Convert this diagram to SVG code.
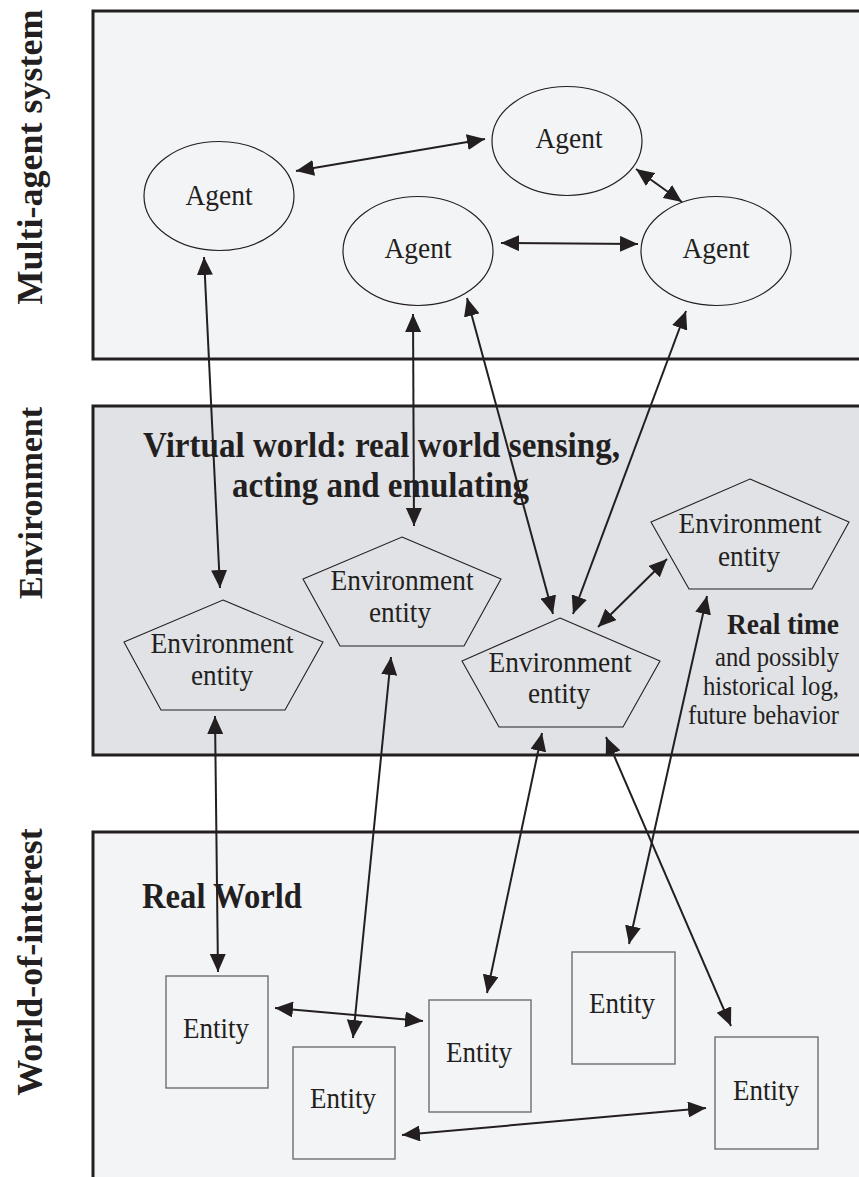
<svg xmlns="http://www.w3.org/2000/svg" width="859" height="1177" viewBox="0 0 859 1177">
  <style>
    .panel { stroke: #231f20; stroke-width: 3; }
    .light { fill: #f3f4f6; }
    .dark { fill: #e1e2e6; }
    .agent { fill: none; stroke: #231f20; stroke-width: 1.2; }
    .env { fill: none; stroke: #231f20; stroke-width: 1.1; }
    .ent { fill: none; stroke: #6d6e71; stroke-width: 1.4; }
    .lbl { font-family: "Liberation Serif", "Times New Roman", serif; fill: #231f20; }
    .node { font-size: 29px; text-anchor: middle; }
    .side { font-size: 36px; font-weight: bold; text-anchor: middle; }
    .head { font-size: 35px; font-weight: bold; }
    .note { font-size: 27px; text-anchor: end; }
    .link { fill: none; stroke: #231f20; stroke-width: 2; marker-start: url(#tip); marker-end: url(#tip); }
  </style>
  <defs>
    <marker id="tip" markerUnits="userSpaceOnUse" markerWidth="19" markerHeight="16" refX="18" refY="8" orient="auto-start-reverse" viewBox="0 0 19 16">
      <path d="M0,0 L18,8 L0,16 z" fill="#231f20"/>
    </marker>
  </defs>

  <rect width="859" height="1177" fill="#ffffff"/>

  <!-- layer panels -->
  <g id="panel-mas">
    <rect class="panel light" x="93" y="11" width="780" height="348"/>
    <text class="lbl side" transform="translate(42,157) rotate(-90)">Multi-agent system</text>
  </g>
  <g id="panel-env">
    <rect class="panel dark" x="93" y="406" width="780" height="349"/>
    <text class="lbl side" style="font-size:34px" transform="translate(42,503) rotate(-90)">Environment</text>
    <text class="lbl head" x="143" y="457" textLength="477" lengthAdjust="spacingAndGlyphs">Virtual world: real world sensing,</text>
    <text class="lbl head" x="232" y="497" textLength="297" lengthAdjust="spacingAndGlyphs">acting and emulating</text>
    <text class="lbl note" x="839" y="634" style="font-size:30px;font-weight:bold" textLength="112" lengthAdjust="spacingAndGlyphs">Real time</text>
    <text class="lbl note" x="839" y="666" textLength="124" lengthAdjust="spacingAndGlyphs">and possibly</text>
    <text class="lbl note" x="839" y="695" textLength="136" lengthAdjust="spacingAndGlyphs">historical log,</text>
    <text class="lbl note" x="839" y="724" textLength="151" lengthAdjust="spacingAndGlyphs">future behavior</text>
  </g>
  <g id="panel-world">
    <rect class="panel light" x="93" y="832" width="780" height="360"/>
    <text class="lbl side" transform="translate(42,962) rotate(-90)">World-of-interest</text>
    <text class="lbl head" x="142" y="908" textLength="160" lengthAdjust="spacingAndGlyphs">Real World</text>
  </g>

  <!-- agents -->
  <g id="agent-1">
    <ellipse class="agent" cx="219" cy="196" rx="75" ry="54.5"/>
    <text class="lbl node" x="219" y="205" textLength="67" lengthAdjust="spacingAndGlyphs">Agent</text>
  </g>
  <g id="agent-2">
    <ellipse class="agent" cx="567" cy="141" rx="75" ry="54.5"/>
    <text class="lbl node" x="569" y="148" textLength="67" lengthAdjust="spacingAndGlyphs">Agent</text>
  </g>
  <g id="agent-3">
    <ellipse class="agent" cx="418" cy="251" rx="75" ry="54.5"/>
    <text class="lbl node" x="418" y="258" textLength="67" lengthAdjust="spacingAndGlyphs">Agent</text>
  </g>
  <g id="agent-4">
    <ellipse class="agent" cx="716" cy="251" rx="75" ry="54.5"/>
    <text class="lbl node" x="716" y="258" textLength="67" lengthAdjust="spacingAndGlyphs">Agent</text>
  </g>

  <!-- environment entities -->
  <g id="env-1">
    <polygon class="env" points="223,600 323,642 285,710 161,710 124,642"/>
    <text class="lbl node" x="222" y="653" textLength="143" lengthAdjust="spacingAndGlyphs">Environment</text>
    <text class="lbl node" x="222" y="685" textLength="62" lengthAdjust="spacingAndGlyphs">entity</text>
  </g>
  <g id="env-2">
    <polygon class="env" points="402,537 501,579 464,646 340,646 303,579"/>
    <text class="lbl node" x="402" y="590" textLength="143" lengthAdjust="spacingAndGlyphs">Environment</text>
    <text class="lbl node" x="400" y="622" textLength="62" lengthAdjust="spacingAndGlyphs">entity</text>
  </g>
  <g id="env-3">
    <polygon class="env" points="560,618 660,661 623,727 499,727 462,661"/>
    <text class="lbl node" x="560" y="672" textLength="143" lengthAdjust="spacingAndGlyphs">Environment</text>
    <text class="lbl node" x="559" y="703" textLength="62" lengthAdjust="spacingAndGlyphs">entity</text>
  </g>
  <g id="env-4">
    <polygon class="env" points="750,479 849,522 812,589 689,589 651,522"/>
    <text class="lbl node" x="750" y="533" textLength="143" lengthAdjust="spacingAndGlyphs">Environment</text>
    <text class="lbl node" x="749" y="566" textLength="62" lengthAdjust="spacingAndGlyphs">entity</text>
  </g>

  <!-- real-world entities -->
  <g id="entity-1">
    <rect class="ent" x="166" y="976" width="102" height="112"/>
    <text class="lbl node" x="216" y="1038" textLength="66" lengthAdjust="spacingAndGlyphs">Entity</text>
  </g>
  <g id="entity-2">
    <rect class="ent" x="293" y="1047" width="102" height="112"/>
    <text class="lbl node" x="343" y="1108" textLength="66" lengthAdjust="spacingAndGlyphs">Entity</text>
  </g>
  <g id="entity-3">
    <rect class="ent" x="429" y="1000" width="102" height="112"/>
    <text class="lbl node" x="479" y="1062" textLength="66" lengthAdjust="spacingAndGlyphs">Entity</text>
  </g>
  <g id="entity-4">
    <rect class="ent" x="572" y="952" width="103" height="112"/>
    <text class="lbl node" x="622" y="1013" textLength="66" lengthAdjust="spacingAndGlyphs">Entity</text>
  </g>
  <g id="entity-5">
    <rect class="ent" x="715" y="1037" width="103" height="112"/>
    <text class="lbl node" x="766" y="1100" textLength="66" lengthAdjust="spacingAndGlyphs">Entity</text>
  </g>

  <!-- two-way links -->
  <g id="connectors">
    <line class="link" x1="296" y1="171" x2="485" y2="139"/>
    <line class="link" x1="636" y1="169" x2="682" y2="202"/>
    <line class="link" x1="501" y1="243" x2="638" y2="244"/>
    <line class="link" x1="204" y1="257" x2="220" y2="588"/>
    <line class="link" x1="413" y1="314" x2="414" y2="526"/>
    <line class="link" x1="467" y1="298" x2="553" y2="614"/>
    <line class="link" x1="686" y1="311" x2="573" y2="614"/>
    <line class="link" x1="598" y1="627" x2="667" y2="559"/>
    <line class="link" x1="215" y1="716" x2="218" y2="972"/>
    <line class="link" x1="391" y1="657" x2="353" y2="1038"/>
    <line class="link" x1="542" y1="733" x2="487" y2="993"/>
    <line class="link" x1="606" y1="737" x2="731" y2="1026"/>
    <line class="link" x1="707" y1="596" x2="629" y2="944"/>
    <line class="link" x1="275" y1="1008" x2="423" y2="1021"/>
    <line class="link" x1="402" y1="1135" x2="706" y2="1108"/>
  </g>
</svg>
